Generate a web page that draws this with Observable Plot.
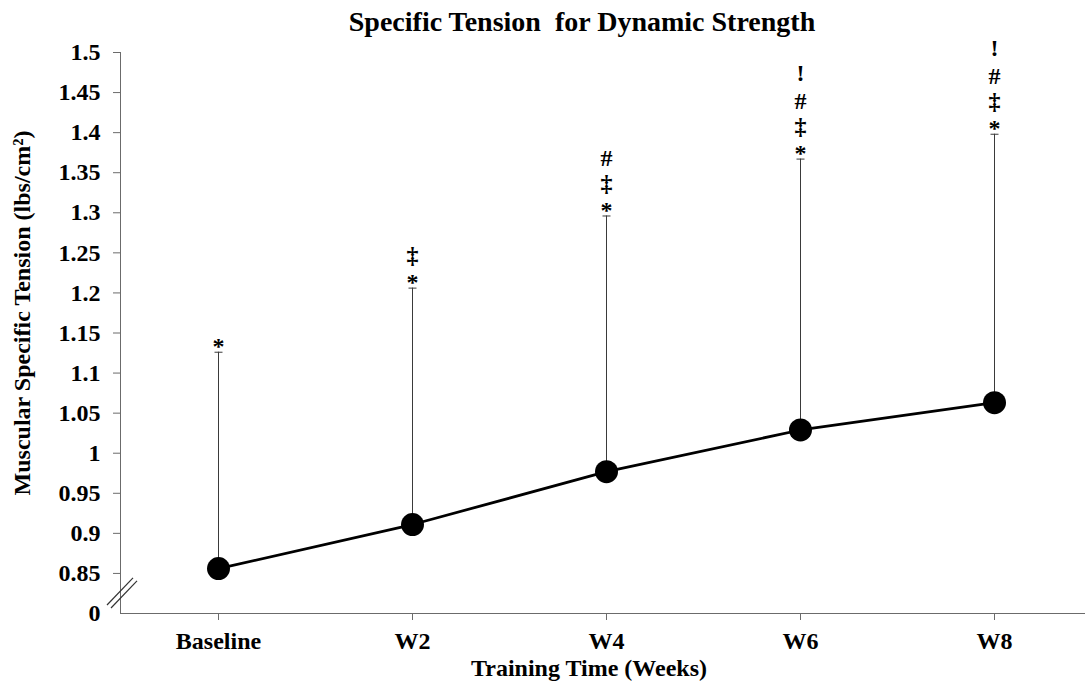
<!DOCTYPE html>
<html>
<head>
<meta charset="utf-8">
<script src="https://cdn.jsdelivr.net/npm/d3@7"></script>
<script src="https://cdn.jsdelivr.net/npm/@observablehq/plot@0.6"></script>
<style>
  html, body { margin: 0; padding: 0; background: #fff; }
  #chart svg { display: block; }
</style>
</head>
<body>
<div id="chart"></div>
<script>
// Training sessions and mean specific tension (lbs/cm²) with upper error bars
const weeks = ["Baseline", "W2", "W4", "W6", "W8"];
const meanTension = [0.856, 0.911, 0.977, 1.029, 1.063];
const upperError = [1.126, 1.206, 1.296, 1.367, 1.398];

// Significance markers stacked above each error bar (bottom to top)
const markers = [
  ["*"],
  ["*", "‡"],
  ["*", "‡", "#"],
  ["*", "‡", "#", "!"],
  ["*", "‡", "#", "!"]
];

// Broken y axis: the lowest tick stands for zero
const yTicks = [0.8, 0.85, 0.9, 0.95, 1, 1.05, 1.1, 1.15, 1.2, 1.25, 1.3, 1.35, 1.4, 1.45, 1.5];
const yTickLabels = ["0", "0.85", "0.9", "0.95", "1", "1.05", "1.1", "1.15", "1.2", "1.25", "1.3", "1.35", "1.4", "1.45", "1.5"];

const rows = weeks.map((week, i) => ({week, mean: meanTension[i], upper: upperError[i]}));
const stacked = rows.flatMap((r, i) => markers[i].map((symbol, level) => ({week: r.week, upper: r.upper, symbol, level})));

const serif = "'Times New Roman', 'Liberation Serif', serif";
const axisGray = "#6b6b6b";
const labelSize = 24;
const levelOffsets = [-6, -33, -58, -86];

// Horizontal cap drawn as a dot symbol
const capSymbol = {
  draw(context, size) {
    const w = Math.sqrt(size / Math.PI);
    context.moveTo(-w, 0);
    context.lineTo(w, 0);
  }
};

// Double slash across the y axis marking the break between 0 and 0.85
const axisBreak = (index, scales, values, dims) => {
  const g = d3.create("svg:g").attr("stroke", "#333").attr("stroke-width", 1.2);
  const x0 = dims.marginLeft;
  const yLow = scales.y(0.8), yHigh = scales.y(0.84);
  [[-13, -3], [-9, 0]].forEach(([dx, dyy]) => {
    g.append("line")
      .attr("x1", x0 + dx).attr("y1", yLow - 5 + dyy)
      .attr("x2", x0 + dx + 26).attr("y2", yHigh + dyy);
  });
  return g.node();
};

const chart = Plot.plot({
  width: 1085,
  height: 684,
  marginLeft: 120,
  marginRight: 0,
  marginTop: 52,
  marginBottom: 71,
  style: {fontFamily: serif, fontWeight: "bold", color: "black", background: "white"},
  x: {type: "point", domain: weeks, range: [120, 1092.5], padding: 0.5},
  y: {domain: [0.8, 1.5]},
  marks: [
    // axis lines
    Plot.frame({anchor: "left", stroke: axisGray}),
    Plot.frame({anchor: "bottom", stroke: axisGray}),
    axisBreak,
    // y tick lines (none at the zero stub)
    Plot.axisY({ticks: yTicks.filter(t => t > 0.8), tickSize: 7, stroke: axisGray, fill: "none", label: null}),
    // y tick labels
    Plot.axisY({ticks: yTicks, tickSize: 0, tickPadding: 20, tickFormat: (d, i) => yTickLabels[i], fontSize: labelSize, fontWeight: "bold", label: null}),
    Plot.axisX({tickSize: 7, tickPadding: 11, stroke: axisGray, fontSize: labelSize, fontWeight: "bold", label: null}),
    // error bars with caps
    Plot.ruleX(rows, {x: "week", y1: "mean", y2: "upper", stroke: "#3a3a3a", strokeWidth: 1}),
    Plot.dot(rows, {x: "week", y: "upper", symbol: capSymbol, r: 4, stroke: "#3a3a3a", strokeWidth: 1, fill: "none"}),
    // mean line and points
    Plot.line(rows, {x: "week", y: "mean", stroke: "black", strokeWidth: 2.75}),
    Plot.dot(rows, {x: "week", y: "mean", r: 11.5, fill: "black", stroke: "none"}),
    // significance markers
    ...levelOffsets.map((dy, level) =>
      Plot.text(stacked.filter(d => d.level === level), {x: "week", y: "upper", text: "symbol", dy, fontSize: labelSize, fontWeight: "bold", fill: "black"})
    ),
    // titles
    Plot.text(["Specific Tension  for Dynamic Strength"], {frameAnchor: "top", dy: -41, dx: -21, fontSize: 28, fontWeight: "bold", fill: "black"}),
    Plot.text(["Muscular Specific Tension (lbs/cm²)"], {frameAnchor: "left", textAnchor: "middle", dx: -98, dy: -20, rotate: -90, fontSize: labelSize, fontWeight: "bold", fill: "black"}),
    Plot.text(["Training Time (Weeks)"], {frameAnchor: "bottom", dy: 62, dx: -14, fontSize: labelSize, fontWeight: "bold", fill: "black"})
  ]
});

document.getElementById("chart").appendChild(chart);
</script>
</body>
</html>
